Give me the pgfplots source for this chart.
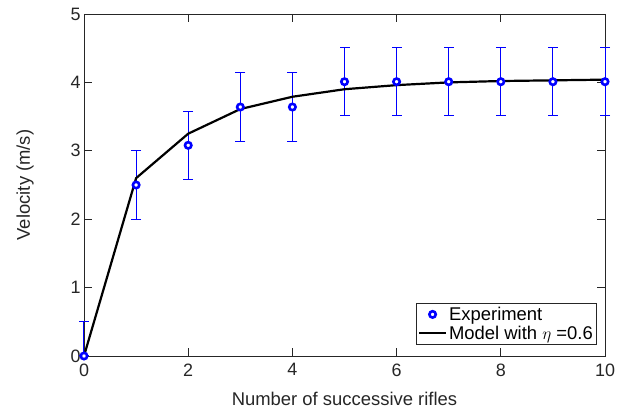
\documentclass[border=0pt]{standalone}
\usepackage{fontspec}
\setmainfont{Liberation Sans}
\usepackage{pgfplots}
\usepackage{pgfplotstable}
\pgfplotsset{compat=1.18}
\definecolor{mgray}{RGB}{38,38,38}
\pgfplotsset{
 expleg/.style={legend image code/.code={\draw[##1] plot coordinates {(0.475cm,0cm)};}},
 modleg/.style={legend image code/.code={\draw[##1] (0cm,0cm) -- (0.95cm,0cm);}},
}
\pgfplotstableread{
x y ep em
0 0 0.5 0
1 2.50 0.5 0.5
2 3.08 0.5 0.5
3 3.64 0.5 0.5
4 3.64 0.5 0.5
5 4.01 0.5 0.5
6 4.01 0.5 0.5
7 4.01 0.5 0.5
8 4.01 0.5 0.5
9 4.01 0.5 0.5
10 4.01 0.5 0.5
}\exptable
\pgfplotstableread{
x y
0 0
1 2.60
2 3.25
3 3.61
4 3.79
5 3.90
6 3.96
7 4.00
8 4.02
9 4.03
10 4.04
}\modeltable
\begin{document}
\begin{tikzpicture}
\begin{axis}[
 scale only axis, width=521bp, height=342bp,
 xmin=0, xmax=10, ymin=0, ymax=5,
 xtick={0,2,...,10}, ytick={0,1,...,5},
 tick align=inside, major tick length=8bp,
 axis line style={mgray, line width=0.8bp},
 every tick/.style={mgray, line width=0.8bp},
 ticklabel style={font=\fontsize{18}{20}\selectfont, text=mgray},
 xticklabel style={yshift=-4bp},
 label style={font=\fontsize{18.5}{21}\selectfont, text=mgray},
 xlabel style={at={(axis description cs:0.5,-0.1257)}, anchor=center},
 ylabel style={at={(axis description cs:-0.1132,0.5)}, anchor=center},
 /pgf/number format/assume math mode=true,
 xlabel={Number of successive rifles}, ylabel={Velocity (m/s)},
 legend style={at={(0.985,0.032)}, anchor=south east, font=\fontsize{18.5}{21}\selectfont, draw=mgray, line width=0.8bp, inner sep=2bp},
 legend cell align=left,
 clip=false,
]
\addplot[forget plot, color=blue, only marks, mark=none,
  error bars/.cd, y dir=both, y explicit,
  error bar style={color=blue, line width=1bp},
  error mark=none]
  table[x=x, y=y, y error plus=ep, y error minus=em] {\exptable};
\addplot[forget plot, only marks, mark=-, mark size=5bp, color=blue, mark options={line width=1bp, draw=blue}]
  table[x=x, y expr=\thisrow{y}+\thisrow{ep}] {\exptable};
\addplot[forget plot, only marks, mark=-, mark size=5bp, color=blue, mark options={line width=1bp, draw=blue}]
  table[x=x, y expr=\thisrow{y}-\thisrow{em}] {\exptable};
\addplot[only marks, blue, mark=*, mark size=3.2bp, mark options={line width=2.6bp, fill=white, draw=blue}, expleg]
  table[x=x, y=y] {\exptable};
\addlegendentry{Experiment}
\addplot[black, line width=2.2bp, mark=none, modleg] table[x=x, y=y] {\modeltable};
\addlegendentry{Model with $\eta$ =0.6}
\end{axis}
\pgfresetboundingbox
\useasboundingbox ([xshift=-84bp,yshift=-55bp]current axis.south west) rectangle ([xshift=25bp,yshift=14bp]current axis.north east);
\end{tikzpicture}
\end{document}
